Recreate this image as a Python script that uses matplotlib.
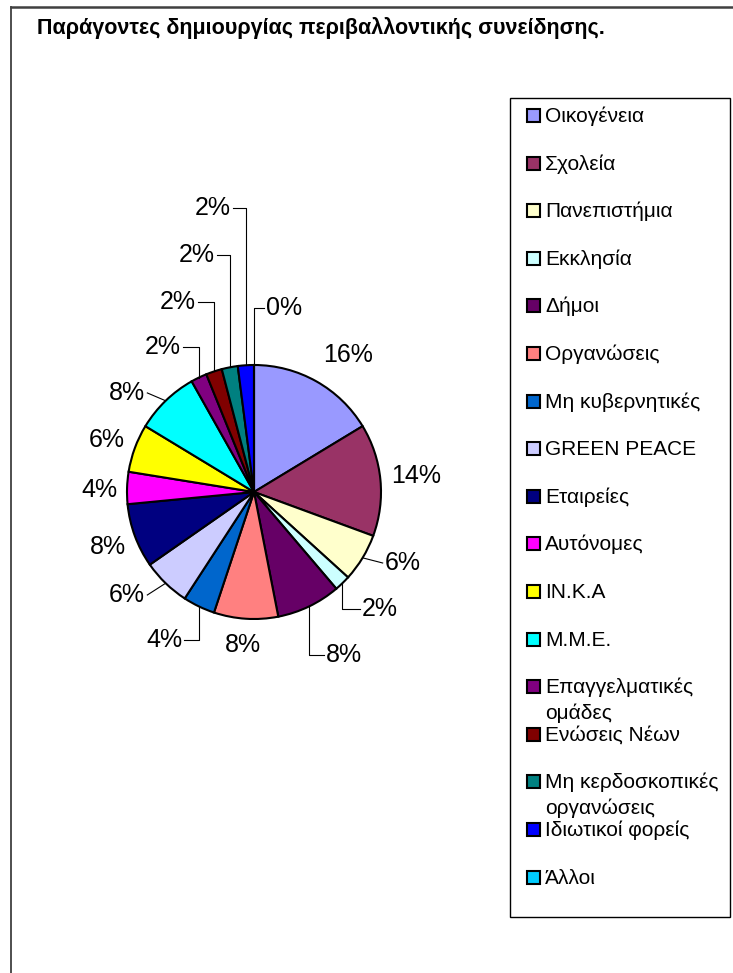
import numpy as np
import matplotlib.pyplot as plt
from matplotlib.patches import Rectangle
from matplotlib.lines import Line2D

plt.rcParams['font.family'] = ['Liberation Sans', 'DejaVu Sans']

TITLE = "Παράγοντες δημιουργίας περιβαλλοντικής συνείδησης."

CATEGORIES = [
    "Οικογένεια", "Σχολεία", "Πανεπιστήμια", "Εκκλησία", "Δήμοι",
    "Οργανώσεις", "Μη κυβερνητικές", "GREEN PEACE", "Εταιρείες",
    "Αυτόνομες", "ΙΝ.Κ.Α", "Μ.Μ.Ε.", "Επαγγελματικές\nομάδες",
    "Ενώσεις Νέων", "Μη κερδοσκοπικές\nοργανώσεις", "Ιδιωτικοί φορείς", "Άλλοι",
]
# answers per source (percent labels are rounded shares)
COUNTS = [8, 7, 3, 1, 4, 4, 2, 3, 4, 2, 3, 4, 1, 1, 1, 1, 0]

COLORS = [
    "#9999FF", "#993366", "#FFFFCC", "#CCFFFF", "#660066",
    "#FF8080", "#0066CC", "#CCCCFF", "#000080", "#FF00FF",
    "#FFFF00", "#00FFFF", "#800080", "#800000", "#008080",
    "#0000FF", "#00CCFF",
]

# layout of the percent labels, in pie radii from centre
LABEL_POS = [
    (0.74, 1.08), (1.276, 0.126), (1.173, -0.559), (0.992, -0.921),
    (0.709, -1.283), (-0.087, -1.205), (-0.709, -1.165), (-1.0, -0.811),
    (-1.15, -0.433), (-1.22, 0.016), (-1.157, 0.409), (-1.0, 0.78),
    (-0.717, 1.142), (-0.598, 1.496), (-0.449, 1.866), (-0.323, 2.236),
    (0.236, 1.449),
]
# leader line kind for each label
LEADER = [None, None, "line", "elbow", "elbow", None, "elbow", "line",
          None, None, None, "line", "elbow", "elbow", "elbow", "elbow", "elbow"]

W, H = 733, 973
CX, CY, R = 254, 492, 127      # pie centre / radius in pixels

fig = plt.figure(figsize=(W / 100, H / 100), dpi=100)
ax = fig.add_axes([0, 0, 1, 1])

wedges, _ = ax.pie(COUNTS, colors=COLORS, startangle=90, counterclock=False,
                   radius=1.0, center=(0, 0),
                   wedgeprops=dict(edgecolor="black", linewidth=1.5))
ax.set_aspect("auto")
ax.set_xlim(-CX / R, (W - CX) / R)
ax.set_ylim(-(H - CY) / R, CY / R)
ax.axis("off")

total = sum(COUNTS)
hw = 0.16
for w, cnt, (lx, ly), kind in zip(wedges, COUNTS, LABEL_POS, LEADER):
    ax.text(lx, ly, f"{cnt / total * 100:.0f}%", ha="center", va="center",
            fontsize=18, color="black")
    if kind is None:
        continue
    mid = np.deg2rad((w.theta1 + w.theta2) / 2)
    sx, sy = np.cos(mid), np.sin(mid)
    ex = lx + hw if lx < sx else lx - hw
    if kind == "elbow":
        xs, ys = [sx, sx, ex], [sy, ly, ly]
    else:
        xs, ys = [sx, ex], [sy, ly]
    ax.plot(xs, ys, color="black", lw=0.8)

# outer chart frame (cropped)
fig.add_artist(Line2D([11 / W, 1], [1 - 7 / H, 1 - 7 / H], color="#404040", lw=1.8))
fig.add_artist(Line2D([11 / W, 11 / W], [0, 1 - 7 / H], color="#404040", lw=1.3))

fig.text(37 / W, 1 - 28 / H, TITLE, fontsize=15.5, fontweight="bold",
         ha="left", va="center")

# legend box
lx0, ly0, lx1, ly1 = 510, 98, 730, 917
fig.add_artist(Rectangle((lx0 / W, 1 - ly1 / H), (lx1 - lx0) / W, (ly1 - ly0) / H,
                         transform=fig.transFigure, fill=False,
                         edgecolor="black", lw=1))
step = 47.6
for i, (name, col) in enumerate(zip(CATEGORIES, COLORS)):
    yc = 115 + i * step
    fig.add_artist(Rectangle((527 / W, 1 - (yc + 7) / H), 13 / W, 13 / H,
                             transform=fig.transFigure, facecolor=col,
                             edgecolor="black", lw=1.5))
    for k, line in enumerate(name.split("\n")):
        fig.text(545 / W, 1 - (yc + 7 + k * 26) / H, line, fontsize=15,
                 ha="left", va="baseline")

fig.savefig("out.png", dpi=100, facecolor="white")
